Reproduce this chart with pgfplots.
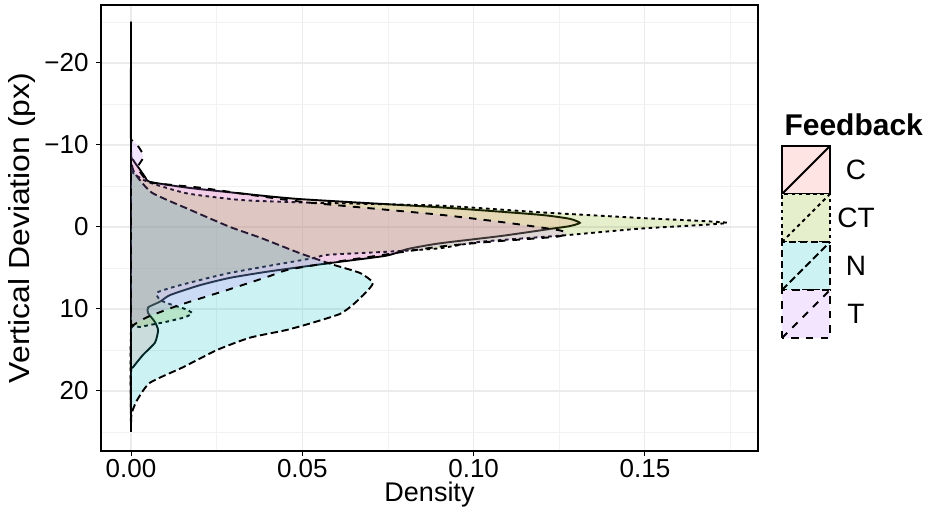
\documentclass[border=0pt]{standalone}
\usepackage{fontspec}
\setmainfont{Liberation Sans}
\usepackage{pgfplots}
\pgfplotsset{compat=1.18}

% ggplot2 default hues for four groups
\definecolor{cC}{HTML}{F8766D}
\definecolor{cCT}{HTML}{7CAE00}
\definecolor{cN}{HTML}{00BFC4}
\definecolor{cT}{HTML}{C77CFF}

\newcommand{\fs}[1]{\fontsize{#1bp}{#1bp}\selectfont}

\tikzset{
  lnC/.style={solid},
  lnCT/.style={dash pattern=on 3.6bp off 3.6bp},
  lnN/.style={dash pattern=on 7.4bp off 3.6bp},
  lnT/.style={dash pattern=on 7.4bp off 7.2bp},
}

\begin{document}
\begin{tikzpicture}
\useasboundingbox (0,0) rectangle (928bp,520bp);
\begin{axis}[
  at={(101bp,69bp)}, anchor=south west,
  scale only axis, width=657bp, height=446bp,
  xmin=-0.00876, xmax=0.1830,
  ymin=-27.07, ymax=27.32,
  y dir=reverse,
  axis line style={black, line width=1.3bp},
  xtick={0,0.05,0.1,0.15},
  xticklabels={0.00,0.05,0.10,0.15},
  minor xtick={0.025,0.075,0.125,0.175},
  ytick={-20,-10,0,10,20},
  yticklabels={−20,−10,0,10,20},
  minor ytick={-25,-15,-5,5,15,25},
  xtick pos=bottom, ytick pos=left,
  tick align=outside,
  major tick length=5bp, minor tick length=0pt,
  tick style={black, line width=1bp},
  grid=both,
  major grid style={color=black!8, line width=1.1bp},
  minor grid style={color=black!5, line width=0.6bp},
  ticklabel style={font=\fs{26}},
  yticklabel style={xshift=-4bp},
  xlabel={Density},
  ylabel={\scalebox{1.1}[1]{Vertical Deviation (px)}},
  xlabel style={font=\fs{27}, yshift=3bp},
  ylabel style={font=\fs{29}, yshift=2bp},
  every axis plot/.append style={draw=black, line width=1.9bp, fill opacity=0.2, draw opacity=1,
    smooth, tension=0.35},
]
% C
\addplot[lnC, fill=cC] coordinates {
(0,-25) (0,-9.4) (0.0006,-8.2) (0.0026,-7.0) (0.0041,-6.1) (0.0055,-5.5)
(0.0163,-4.8) (0.0318,-4.1) (0.0493,-3.4) (0.090,-2.4) (0.119,-1.5)
(0.128,-1.0) (0.131,-0.5) (0.128,-0.1) (0.123,0.2) (0.108,1.1) (0.090,2.0)
(0.0806,2.7) (0.0745,3.5) (0.058,4.4) (0.0406,5.4) (0.0289,6.2) (0.0201,7.1)
(0.0114,8.3) (0.0085,9.1) (0.005,9.8) (0.005,10.5) (0.007,11.6) (0.0079,12.6)
(0.007,14.1) (0.0035,15.6) (0.0006,17.1) (0,17.7) (0,25)
} -- cycle;
% CT
\addplot[lnCT, fill=cCT] coordinates {
(0,-25) (0,-8.2) (0.0003,-7.3) (0.0006,-6.6) (0.0026,-6.0) (0.0055,-5.4)
(0.0163,-4.1) (0.0318,-3.3) (0.0493,-3.0) (0.090,-2.6) (0.119,-1.8)
(0.1486,-1.1) (0.174,-0.5) (0.1486,0.2) (0.127,1.0) (0.102,1.8) (0.090,2.6)
(0.0756,3.0) (0.0572,3.4) (0.0531,3.8) (0.0289,5.6) (0.0143,7.1) (0.0076,8.0)
(0.0085,8.9) (0.012,9.5) (0.0158,10.0) (0.0178,10.5) (0.0158,11.0)
(0.0099,11.6) (0.0026,12.2) (0,12.7) (0,25)
} -- cycle;
% N
\addplot[lnN, fill=cN] coordinates {
(0,-25) (0,-9) (0.0002,-7.6) (0.0009,-6.7) (0.0026,-5.7) (0.0064,-4.1)
(0.0172,-2.1) (0.0289,0) (0.0377,1.3) (0.0493,3.2) (0.059,4.6) (0.0668,5.6)
(0.0706,6.8) (0.0685,8.0) (0.0650,9.4) (0.061,10.6) (0.0520,11.8) (0.0450,12.6)
(0.0347,13.5) (0.0251,15.0) (0.0152,17.1) (0.0055,19.0) (0.0018,21.1)
(0.0002,22.7) (0,24) (0,25)
} -- cycle;
% T
\addplot[lnT, fill=cT] coordinates {
(0,-25) (0,-11) (0.0002,-10.6) (0.0018,-10.0) (0.0032,-9.1) (0.0035,-8.4)
(0.0023,-7.6) (0.002,-7.2) (0.0035,-6.2) (0.0061,-5.4) (0.020,-4.8)
(0.0318,-4.1) (0.0514,-3.0) (0.090,-1.5) (0.110,-0.5) (0.125,0.4)
(0.127,0.8) (0.124,1.2) (0.105,1.8) (0.090,2.4) (0.0736,3.4) (0.059,4.3)
(0.046,5.2) (0.0397,6.1) (0.028,7.7) (0.0143,9.5) (0.0047,11.0)
(0.0006,12.0) (0,12.6) (0,25)
} -- cycle;
\end{axis}

% legend
\node[anchor=west, font=\bfseries\fs{30}] at (781bp,395bp) {Feedback};
\foreach \k/\lab/\yy in {C/C/326, CT/CT/278, N/N/230, T/T/182}{
  \fill[c\k!20] (782bp,\yy bp) rectangle (830bp,\yy bp+48bp);
  \draw[ln\k, line width=1.4bp] (782bp,\yy bp) rectangle (830bp,\yy bp+48bp);
  \draw[ln\k, line width=1.8bp] (782bp,\yy bp) -- (830bp,\yy bp+48bp);
  \node[font=\fs{28}] at (856bp,\yy bp+24bp) {\lab};
}
\end{tikzpicture}
\end{document}
